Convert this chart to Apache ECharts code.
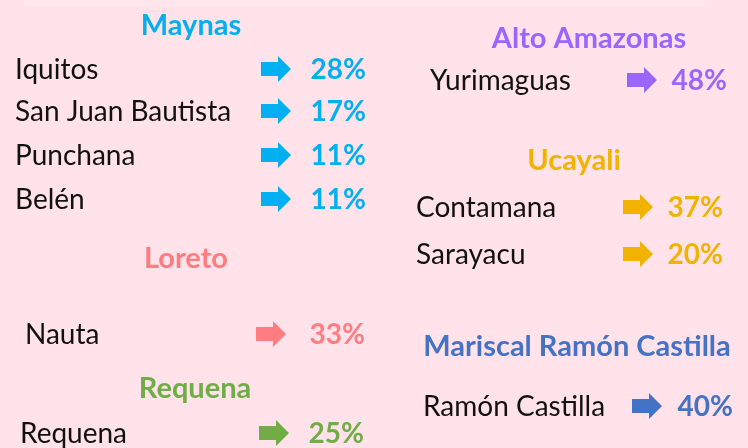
<!DOCTYPE html>
<html>
<head>
<meta charset="utf-8">
<script src="https://cdn.jsdelivr.net/npm/echarts@6/dist/echarts.min.js"></script>
<style>
  html, body { margin: 0; padding: 0; background: #FFE2EA; }
  #chart { width: 748px; height: 448px; }
</style>
</head>
<body>
<div id="chart"></div>
<script>
  // datos
  const provincias = ['Maynas', 'Loreto', 'Requena', 'Alto Amazonas', 'Ucayali', 'Mariscal Ramón Castilla'];
  const distritos = [
    ['Iquitos', 'San Juan Bautista', 'Punchana', 'Belén'],
    ['Nauta'],
    ['Requena'],
    ['Yurimaguas'],
    ['Contamana', 'Sarayacu'],
    ['Ramón Castilla']
  ];
  const porcentajes = [
    [28, 17, 11, 11],
    [33],
    [25],
    [48],
    [37, 20],
    [40]
  ];

  // estilo y ubicacion (en unidades de los ejes ocultos)
  const colores = ['#00B0F0', '#FF7C80', '#70AD47', '#9966FF', '#F0B400', '#4472C4'];
  const posTitulo = [[191, 26], [186, 259], [195, 389], [589, 39], [574, 161], [577, 347]];
  const posFilas = [
    { xName: 15, xArrow: 261, xPct: 366, y: [70, 112, 156, 200] },
    { xName: 25, xArrow: 256, xPct: 365, y: [335] },
    { xName: 20, xArrow: 259, xPct: 364, y: [434] },
    { xName: 430, xArrow: 627, xPct: 727, y: [81] },
    { xName: 416, xArrow: 623, xPct: 723, y: [208, 255] },
    { xName: 423, xArrow: 632, xPct: 733, y: [407] }
  ];

  const fuente = 'Lato, "Open Sans", sans-serif';

  let filas = [];
  distritos.forEach((lista, g) => {
    lista.forEach((d, i) => filas.push([g, i]));
  });
  let titulos = provincias.map((p, g) => [g]);

  const chart = echarts.init(document.getElementById('chart'));
  const option = {
    backgroundColor: '#FFE2EA',
    animation: false,
    grid: { left: 0, right: 0, top: 0, bottom: 0 },
    xAxis: { type: 'value', min: 0, max: 748, show: false },
    yAxis: { type: 'value', min: 0, max: 448, inverse: true, show: false },
    graphic: [
      {
        type: 'rect',
        shape: { x: 24, y: -2, width: 684, height: 7 },
        style: { fill: '#FFE6ED', stroke: '#FFE9EF', lineWidth: 1 }
      }
    ],
    series: [
      {
        type: 'custom',
        name: 'titulos',
        data: titulos,
        clip: false,
        renderItem: function (params, api) {
          const g = api.value(0);
          const p = api.coord(posTitulo[g]);
          return {
            type: 'text',
            x: p[0], y: p[1],
            style: {
              text: provincias[g],
              fill: colores[g],
              font: 'bold 29px ' + fuente,
              align: 'center',
              verticalAlign: 'middle'
            }
          };
        }
      },
      {
        type: 'custom',
        name: 'distritos',
        data: filas,
        clip: false,
        renderItem: function (params, api) {
          const g = api.value(0), i = api.value(1);
          const L = posFilas[g];
          const pn = api.coord([L.xName, L.y[i]]);
          const pa = api.coord([L.xArrow, L.y[i]]);
          const pp = api.coord([L.xPct, L.y[i]]);
          const w = 30, sh = 7, hh = 13, sl = 17;
          const x0 = pa[0], y0 = pa[1] - 1;
          return {
            type: 'group',
            children: [
              {
                type: 'text',
                x: pn[0], y: pn[1],
                style: {
                  text: distritos[g][i],
                  fill: '#111111',
                  font: '28px ' + fuente,
                  align: 'left',
                  verticalAlign: 'middle'
                }
              },
              {
                type: 'polygon',
                shape: {
                  points: [
                    [x0, y0 - sh], [x0 + sl, y0 - sh], [x0 + sl, y0 - hh],
                    [x0 + w, y0], [x0 + sl, y0 + hh], [x0 + sl, y0 + sh], [x0, y0 + sh]
                  ]
                },
                style: { fill: colores[g] }
              },
              {
                type: 'text',
                x: pp[0], y: pp[1],
                style: {
                  text: porcentajes[g][i] + '%',
                  fill: colores[g],
                  font: 'bold 28px ' + fuente,
                  align: 'right',
                  verticalAlign: 'middle'
                }
              }
            ]
          };
        }
      }
    ]
  };
  chart.setOption(option);
</script>
</body>
</html>
